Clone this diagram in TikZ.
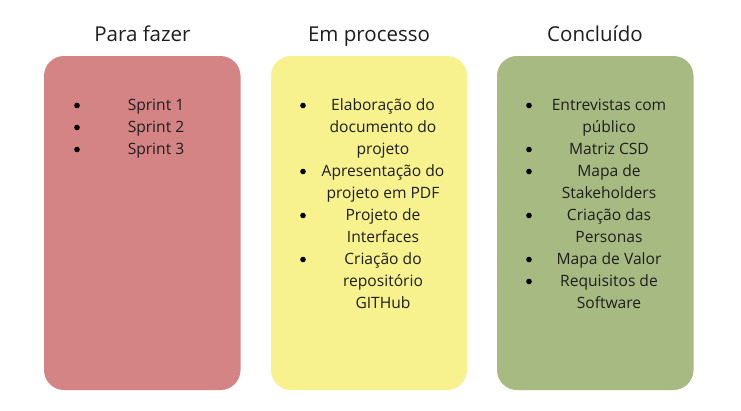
\documentclass[tikz,border=0pt]{standalone}
\usepackage{fontspec}
\setmainfont{Open Sans}
\definecolor{cred}{HTML}{D48484}
\definecolor{cyellow}{HTML}{F7F28D}
\definecolor{cgreen}{HTML}{A6BA82}
\definecolor{ctext}{HTML}{1E1E1E}
\begin{document}
\begin{tikzpicture}[x=1pt,y=-1pt,
  col/.style={draw=none,rounded corners=20pt},
  title/.style={anchor=base,inner sep=0pt,font=\fontsize{20.5}{24}\selectfont,text=ctext},
  item/.style={anchor=base,inner sep=0pt,align=center,font=\fontsize{15.6}{22}\selectfont,text=ctext},
  bul/.style={circle,fill=black,inner sep=0pt,minimum size=5.6pt}]
\useasboundingbox (0,0) rectangle (741,410);
\fill[white] (0,0) rectangle (741,410);
\fill[col,fill=cred] (44,56) rectangle (240.5,390);
\fill[col,fill=cyellow] (271,56) rectangle (467,390);
\fill[col,fill=cgreen] (497,56) rectangle (693.5,390);
\node[title] (t1) at (142.5,41) {Para fazer};
\node[title] (t2) at (369,41) {Em processo};
\node[title] (t3) at (595,41) {Concluído};
% red (anchor base = baseline of the last line)
\node[item] (r1) at (156,110.7) {Sprint 1};
\node[item] (r2) at (156,132.7) {Sprint 2};
\node[item] (r3) at (156,154.7) {Sprint 3};
\node[bul] (rb1) at (77,105.5) {};
\node[bul] (rb2) at (77,127.5) {};
\node[bul] (rb3) at (77,149.5) {};
% yellow
\node[item] (y1) at (383,154.7) {Elaboração do\\documento do\\projeto};
\node[item] (y2) at (383,198.7) {Apresentação do\\projeto em PDF};
\node[item] (y3) at (383,242.7) {Projeto de\\Interfaces};
\node[item] (y4) at (383,308.7) {Criação do\\repositório\\GITHub};
\node[bul] (yb1) at (303,105.5) {};
\node[bul] (yb2) at (303,171.5) {};
\node[bul] (yb3) at (303,215.5) {};
\node[bul] (yb4) at (303,259.5) {};
% green
\node[item] (g1) at (609,132.7) {Entrevistas com\\público};
\node[item] (g2) at (609,154.7) {Matriz CSD};
\node[item] (g3) at (609,198.7) {Mapa de\\Stakeholders};
\node[item] (g4) at (609,242.7) {Criação das\\Personas};
\node[item] (g5) at (609,264.7) {Mapa de Valor};
\node[item] (g6) at (609,308.7) {Requisitos de\\Software};
\node[bul] (gb1) at (529,105.5) {};
\node[bul] (gb2) at (529,149.5) {};
\node[bul] (gb3) at (529,171.5) {};
\node[bul] (gb4) at (529,215.5) {};
\node[bul] (gb5) at (529,259.5) {};
\node[bul] (gb6) at (529,281.5) {};
\end{tikzpicture}
\end{document}
